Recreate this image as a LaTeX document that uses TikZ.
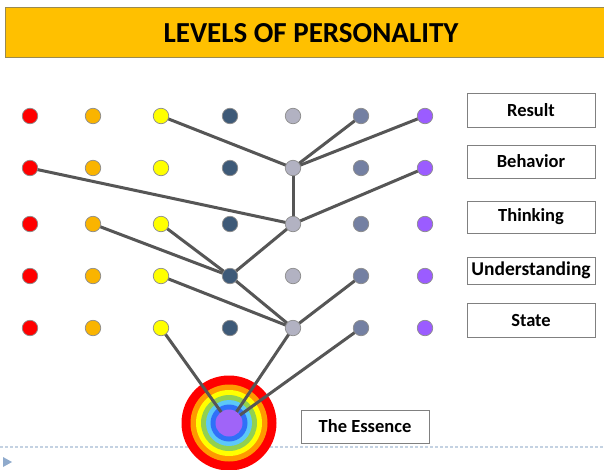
\documentclass[tikz,border=0pt]{standalone}
\usepackage{fontspec}
\setmainfont{Carlito}
\pgfdeclarelayer{back}
\pgfdeclarelayer{lines}
\pgfsetlayers{back,lines,main}
\definecolor{cR}{HTML}{FF0000}
\definecolor{cO}{HTML}{FAB400}
\definecolor{cY}{HTML}{FFFF00}
\definecolor{cD}{HTML}{3E5A78}
\definecolor{cG}{HTML}{B2B2C2}
\definecolor{cS}{HTML}{7480A2}
\definecolor{cP}{HTML}{9B5CFF}
\definecolor{titlefill}{HTML}{FFC000}
\definecolor{titleline}{HTML}{9A8A50}
\definecolor{linkcol}{HTML}{565656}
\definecolor{rOr}{HTML}{FF9900}
\definecolor{rGr}{HTML}{92D050}
\definecolor{rLb}{HTML}{5CC8F8}
\definecolor{rBl}{HTML}{3070F8}
\definecolor{rPu}{HTML}{A064F8}
\definecolor{footcol}{HTML}{C4D2E2}
\definecolor{tricol}{HTML}{8FAACC}
\begin{document}
\begin{tikzpicture}[x=1pt,y=-1pt,
  dot/.style={circle,draw=black!45,line width=0.7pt,minimum size=15.5pt,inner sep=0pt},
  link/.style={draw=linkcol,line width=3pt},
  lab/.style={draw=black!50,line width=1pt,fill=white,minimum width=128pt,inner sep=0pt,font=\bfseries\fontsize{18.5}{18.5}\selectfont},
  ring/.style={circle,inner sep=0pt}]
\useasboundingbox (0,0) rectangle (604,469);
\begin{pgfonlayer}{back}
\fill[white] (0,0) rectangle (604,469);
\draw[footcol,line width=1.2pt,dash pattern=on 2.5pt off 2.5pt] (0,447) -- (604,447);
\fill[tricol] (3,457) -- (12,462) -- (3,467) -- cycle;
\end{pgfonlayer}
% title
\node[draw=titleline,fill=titlefill,line width=1pt,minimum width=610pt,minimum height=49.5pt,inner sep=0pt,anchor=west] (title) at (5,32.25) {};
\node[font=\bfseries\fontsize{29}{29}\selectfont] (ttext) at (311,33) {LEVELS OF PERSONALITY};
% dots
\foreach \c/\x/\col in {1/30/cR,2/93/cO,3/161/cY,4/230/cD,5/293/cG,6/361/cS,7/425/cP}
  \foreach \r/\y in {1/116,2/168,3/224,4/276,5/328}
    \node[dot,fill=\col] (d\r\c) at (\x,\y) {};
% essence centre
\node[ring,fill=rPu,minimum size=27pt] (ess) at (229,423) {};
% labels
\node[lab,minimum height=34pt] (lres) at (531,110) {Result};
\node[lab,minimum height=33pt] (lbeh) at (531,161.5) {Behavior};
\node[lab,minimum height=32pt] (lthi) at (531,217) {Thinking};
\node[lab,minimum height=27pt,font=\bfseries\fontsize{19.5}{19.5}\selectfont] (lund) at (531,270.5) {Understanding};
\node[lab,minimum height=34pt] (lsta) at (531,320) {State};
\node[lab,minimum height=33pt] (less) at (365,426.5) {The Essence};
\begin{pgfonlayer}{lines}
\fill[cR] (ess.center) circle (47.5);
\fill[rOr] (ess.center) circle (38.5);
\fill[cY] (ess.center) circle (33);
\fill[rGr] (ess.center) circle (28);
\fill[rLb] (ess.center) circle (23);
\fill[rBl] (ess.center) circle (18.5);
\draw[link] (d13.center) -- (d25.center);
\draw[link] (d16.center) -- (d25.center);
\draw[link] (d17.center) -- (d25.center);
\draw[link] (d25.center) -- (d35.center);
\draw[link] (d21.center) -- (d35.center);
\draw[link] (d27.center) -- (d35.center);
\draw[link] (d35.center) -- (d44.center);
\draw[link] (d32.center) -- (d44.center);
\draw[link] (d33.center) -- (d44.center);
\draw[link] (d44.center) -- (d55.center);
\draw[link] (d43.center) -- (d55.center);
\draw[link] (d46.center) -- (d55.center);
\draw[link] (d53.center) -- (ess.center);
\draw[link] (d55.center) -- (ess.center);
\draw[link] (d56.center) -- (ess.center);
\end{pgfonlayer}
\end{tikzpicture}
\end{document}
